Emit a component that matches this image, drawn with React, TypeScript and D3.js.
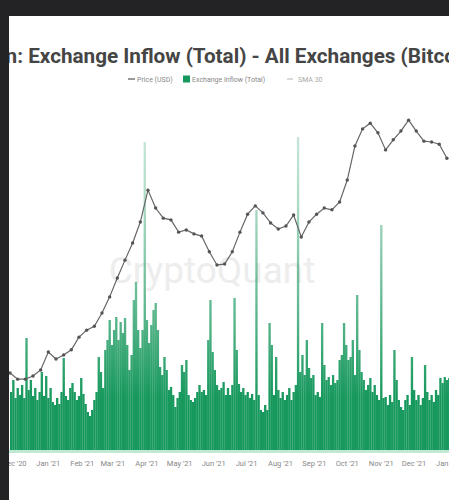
import React from "react";
import * as d3 from "d3";

const W = 449;
const H = 500;

const TITLE = "Bitcoin: Exchange Inflow (Total) - All Exchanges (Bitcoin)";
const LEGEND_ITEMS = ["Price (USD)", "Exchange Inflow (Total)", "SMA 30"];
const WATERMARK = "CryptoQuant";

// Daily series start; inflow sampled every 2 days, price weekly
const START = "2020-11-27";
const END = "2022-01-03";

// Exchange inflow (thousand BTC), one value per 2 days
const inflowK = [
  11.6, 14.0, 10.4, 12.4, 11.0, 13.0, 10.4, 22.4, 12.0, 14.0,
  10.8, 12.4, 10.0, 11.6, 15.6, 10.8, 14.8, 10.4, 12.4, 9.6,
  9.0, 10.4, 9.2, 11.6, 18.4, 10.8, 10.0, 12.4, 13.4, 11.6,
  10.0, 10.8, 14.4, 11.2, 9.2, 7.6, 6.8, 8.0, 10.0, 11.6,
  18.6, 15.6, 12.4, 20.0, 22.0, 26.0, 21.0, 24.0, 26.6, 22.0,
  25.6, 23.4, 26.4, 21.0, 16.0, 19.0, 30.0, 33.6, 24.0, 20.4,
  24.0, 61.6, 26.0, 21.4, 25.0, 28.0, 29.4, 24.0, 16.6, 15.0,
  18.6, 16.0, 12.0, 12.6, 11.0, 8.6, 10.4, 11.6, 17.0, 15.6,
  18.0, 11.0, 10.0, 9.6, 10.4, 11.6, 13.0, 11.6, 12.0, 11.0,
  22.0, 30.0, 19.6, 16.0, 13.0, 12.0, 12.4, 13.6, 11.0, 12.4,
  11.0, 13.0, 30.4, 20.0, 13.2, 11.6, 12.4, 11.0, 11.6, 10.4,
  11.2, 10.0, 48.0, 11.0, 8.0, 7.6, 9.0, 8.0, 25.4, 21.0,
  11.0, 18.6, 12.0, 10.4, 11.6, 10.0, 11.0, 12.4, 10.0, 11.6,
  13.0, 62.6, 15.6, 19.0, 15.0, 22.0, 16.4, 14.4, 15.0, 11.0,
  11.6, 10.6, 25.4, 17.0, 14.0, 14.6, 13.0, 15.0, 13.4, 14.0,
  18.0, 19.0, 25.4, 21.0, 18.0, 18.6, 22.0, 15.0, 31.0, 20.0,
  15.6, 14.0, 12.0, 13.0, 14.4, 11.6, 13.0, 11.0, 10.0, 45.0,
  10.4, 10.6, 9.0, 11.0, 9.6, 20.0, 14.0, 10.0, 8.6, 8.0,
  10.0, 11.0, 9.0, 18.6, 12.0, 10.0, 11.0, 9.0, 10.4, 17.0,
  11.6, 10.0, 11.0, 9.6, 12.0, 11.0, 14.4, 13.4, 14.6, 14.0,
  14.4,
];

// Price (USD), weekly
const priceUsd = [
  17600, 16200, 16200, 16900, 18300, 22400, 20800, 21700, 22900, 25800,
  27400, 28300, 31300, 35000, 39300, 43400, 47300, 52100, 59400, 55300,
  53000, 52600, 49800, 50300, 49400, 48900, 45300, 42300, 42500, 45300,
  49800, 53900, 55800, 54200, 51900, 50500, 51200, 53700, 48700, 52100,
  53900, 55300, 54900, 56700, 61700, 69500, 73400, 74700, 72500, 68600,
  70900, 72900, 75400, 72900, 70600, 70400, 69900, 66700,
];

const GREEN = "#17985d";
const DAY = 86400000;

export default function App() {
  const start = new Date(START + "T00:00:00Z");
  const end = new Date(END + "T00:00:00Z");
  const x = d3.scaleUtc().domain([start, end]).range([10, 450.2]);
  const yIn = d3.scaleLinear().domain([0, 70]).range([450, 100]);
  const yPx = d3.scaleLinear().domain([0, 80000]).range([450, 100]);

  const bars = inflowK.map((v, i) => ({ d: new Date(start.getTime() + i * 2 * DAY), v }));
  const prices = priceUsd.map((v, i) => ({ d: new Date(start.getTime() + i * 7 * DAY), v }));
  const bw = x(new Date(start.getTime() + 2 * DAY)) - x(start);

  const line = d3
    .line<{ d: Date; v: number }>()
    .x((p) => x(p.d))
    .y((p) => yPx(p.v));

  const ticks = x.ticks(d3.utcMonth.every(1)!);
  const fmt = d3.utcFormat("%b '%y");

  return (
    <div style={{ position: "fixed", left: 0, top: 0, width: W, height: H }}>
      <svg width={W} height={H} style={{ display: "block" }}>
        <defs>
          <linearGradient id="barFade" gradientUnits="userSpaceOnUse" x1={0} x2={0} y1={450} y2={120}>
            <stop offset="0" stopColor={GREEN} stopOpacity={1} />
            <stop offset="0.16" stopColor={GREEN} stopOpacity={1} />
            <stop offset="0.4" stopColor={GREEN} stopOpacity={0.72} />
            <stop offset="0.75" stopColor={GREEN} stopOpacity={0.35} />
            <stop offset="1" stopColor={GREEN} stopOpacity={0.22} />
          </linearGradient>
        </defs>
        <rect x={0} y={0} width={W} height={H} fill="#ffffff" />
        <text
          x={-48}
          y={63}
          fontFamily="Roboto, Arial, sans-serif"
          fontWeight={700}
          fontSize={20.7}
          fill="#454545"
        >
          {TITLE}
        </text>
        {/* legend */}
        <g fontFamily="Roboto, Arial, sans-serif" fontSize={7}>
          <line x1={128} x2={135} y1={79} y2={79} stroke="#777" strokeWidth={1.5} />
          <text x={137} y={81.5} fill="#888">{LEGEND_ITEMS[0]}</text>
          <rect x={183} y={75.5} width={7} height={7} fill={GREEN} />
          <text x={192} y={81.5} fill="#888">{LEGEND_ITEMS[1]}</text>
          <line x1={287} x2={293} y1={79} y2={79} stroke="#ccc" strokeWidth={1.5} />
          <text x={298} y={81.5} fill="#aaa">{LEGEND_ITEMS[2]}</text>
        </g>
        {/* watermark */}
        <text
          x={212}
          y={283}
          textAnchor="middle"
          fontFamily="Roboto, Arial, sans-serif"
          fontSize={37}
          fill="#dcdcdc"
          opacity={0.5}
        >
          {WATERMARK}
        </text>
        {/* inflow bars */}
        <g fill="url(#barFade)">
          {bars.map((b, i) => (
            <rect
              key={i}
              x={x(b.d)}
              y={yIn(b.v)}
              width={bw + 0.15}
              height={yIn(0) - yIn(b.v)}
            />
          ))}
        </g>
        <rect x={0} y={450} width={W} height={3} fill="#bfe9d5" />
        {/* price */}
        <path d={line(prices) || ""} fill="none" stroke="#666" strokeWidth={1.2} />
        <g fill="#555">
          {prices.map((p, i) => (
            <circle key={i} cx={x(p.d)} cy={yPx(p.v)} r={1.7} />
          ))}
        </g>
        {/* x axis labels */}
        <g fontFamily="Roboto, Arial, sans-serif" fontSize={7.5} fill="#888" textAnchor="middle">
          {ticks.map((t, i) => (
            <text key={i} x={x(t)} y={466}>
              {fmt(t)}
            </text>
          ))}
        </g>
        {/* dark frame */}
        <rect x={0} y={0} width={W} height={16} fill="#232326" />
        <rect x={0} y={0} width={9} height={H} fill="#232326" />
      </svg>
    </div>
  );
}
